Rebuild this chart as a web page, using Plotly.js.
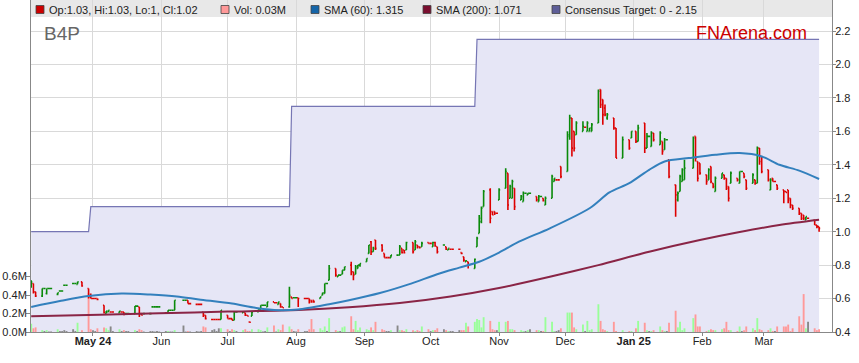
<!DOCTYPE html>
<html>
<head>
<meta charset="utf-8">
<script src="https://cdn.plot.ly/plotly-3.0.1.min.js"></script>
<style>html,body{margin:0;padding:0;background:#fff;}#chart{width:859px;height:363px;}</style>
</head>
<body>
<div id="chart"></div>
<script>
// ---------- DATA ----------
// Daily bars [open, high, low, close, volume(M)] per month (ASX trading days)
const apr24 = [
[0.67,0.71,0.665,0.70,0.09],[0.69,0.69,0.63,0.64,0.04],[0.64,0.64,0.61,0.615,0.05],[0.615,0.66,0.61,0.66,0.02],
[0.66,0.66,0.66,0.66,0.01],[0.63,0.66,0.625,0.66,0.02],[0.66,0.66,0.66,0.66,0.005],[0.66,0.66,0.66,0.66,0.005],
[0.625,0.635,0.62,0.635,0.03],[0.645,0.645,0.645,0.645,0.01],[0.645,0.645,0.645,0.645,0.01],[0.68,0.68,0.68,0.68,0.02],
[0.68,0.68,0.68,0.68,0.01],[0.69,0.69,0.69,0.69,0.03],[0.69,0.69,0.69,0.69,0.01],[0.685,0.70,0.685,0.70,0.10],
[0.70,0.70,0.67,0.675,0.02],[0.66,0.66,0.60,0.61,0.42],[0.62,0.63,0.60,0.60,0.03]];
const may24 = [
[0.60,0.60,0.60,0.60,0.02],[0.60,0.60,0.60,0.60,0.01],[0.60,0.60,0.59,0.595,0.04],[0.56,0.56,0.51,0.515,0.05],
[0.51,0.525,0.51,0.525,0.04],[0.52,0.53,0.52,0.53,0.02],[0.52,0.52,0.52,0.52,0.06],[0.52,0.52,0.52,0.52,0.01],
[0.515,0.525,0.515,0.525,0.03],[0.52,0.52,0.52,0.52,0.01],[0.52,0.52,0.50,0.505,0.02],[0.51,0.51,0.51,0.51,0.01],
[0.51,0.51,0.51,0.51,0.01],[0.51,0.555,0.51,0.555,0.02],[0.555,0.555,0.555,0.555,0.01],[0.55,0.55,0.49,0.505,0.03],
[0.51,0.51,0.50,0.50,0.02],[0.51,0.51,0.51,0.51,0.005],[0.51,0.51,0.51,0.51,0.01],[0.55,0.55,0.55,0.55,0.01],
[0.55,0.55,0.55,0.55,0.005],[0.55,0.55,0.55,0.55,0.01],[0.55,0.55,0.55,0.55,0.005]];
const jun24 = [
[0.515,0.515,0.515,0.515,0.01],[0.515,0.53,0.515,0.53,0.01],[0.53,0.53,0.53,0.53,0.005],[0.53,0.53,0.53,0.53,0.005],
[0.53,0.59,0.53,0.59,0.02],[0.59,0.59,0.59,0.59,0.07],[0.59,0.59,0.59,0.59,0.005],[0.59,0.59,0.57,0.57,0.01],
[0.57,0.57,0.57,0.57,0.005],[0.565,0.565,0.565,0.565,0.01],[0.565,0.565,0.565,0.565,0.005],[0.565,0.565,0.565,0.565,0.01],
[0.52,0.52,0.49,0.50,0.06],[0.50,0.50,0.475,0.48,0.05],[0.475,0.475,0.475,0.475,0.02],[0.475,0.475,0.475,0.475,0.03],
[0.475,0.475,0.475,0.475,0.01],[0.475,0.475,0.475,0.475,0.04],[0.475,0.53,0.475,0.53,0.04]];
const jul24 = [
[0.50,0.50,0.48,0.48,0.03],[0.48,0.48,0.48,0.48,0.01],[0.48,0.48,0.47,0.47,0.03],[0.47,0.52,0.47,0.52,0.02],
[0.52,0.52,0.52,0.52,0.01],[0.515,0.52,0.515,0.52,0.02],[0.515,0.515,0.495,0.50,0.03],[0.50,0.50,0.495,0.495,0.01],
[0.46,0.46,0.458,0.458,0.01],[0.495,0.52,0.495,0.52,0.03],[0.52,0.535,0.52,0.535,0.03],[0.535,0.56,0.535,0.56,0.02],
[0.56,0.56,0.56,0.56,0.005],[0.56,0.56,0.56,0.56,0.01],[0.55,0.58,0.55,0.58,0.05],[0.58,0.58,0.575,0.575,0.07],
[0.575,0.575,0.575,0.575,0.005],[0.565,0.58,0.565,0.58,0.03],[0.57,0.57,0.545,0.55,0.02],[0.55,0.55,0.545,0.545,0.08],
[0.55,0.67,0.545,0.62,0.06],[0.61,0.61,0.60,0.60,0.03],[0.605,0.605,0.605,0.605,0.01]];
const aug24 = [
[0.605,0.605,0.605,0.605,0.005],[0.605,0.605,0.55,0.60,0.03],[0.60,0.60,0.60,0.60,0.01],[0.60,0.60,0.60,0.60,0.01],
[0.60,0.60,0.57,0.58,0.03],[0.59,0.59,0.575,0.58,0.14],[0.59,0.59,0.575,0.58,0.03],[0.60,0.61,0.60,0.61,0.04],
[0.62,0.635,0.62,0.635,0.02],[0.63,0.69,0.63,0.69,0.06],[0.69,0.69,0.69,0.69,0.01],[0.71,0.80,0.71,0.78,0.15],
[0.78,0.78,0.73,0.74,0.02],[0.73,0.74,0.73,0.74,0.01],[0.74,0.74,0.74,0.74,0.01],[0.745,0.77,0.745,0.77,0.05],
[0.77,0.79,0.77,0.79,0.06],[0.80,0.82,0.74,0.76,0.17],[0.76,0.76,0.71,0.74,0.03],[0.745,0.80,0.745,0.79,0.12],
[0.78,0.80,0.78,0.80,0.02],[0.80,0.81,0.79,0.81,0.05]];
const sep24 = [
[0.82,0.84,0.82,0.84,0.03],[0.87,0.92,0.87,0.92,0.02],[0.94,0.945,0.86,0.88,0.05],[0.88,0.91,0.88,0.90,0.02],
[0.95,0.95,0.89,0.90,0.11],[0.92,0.925,0.88,0.89,0.03],[0.87,0.87,0.845,0.845,0.02],[0.845,0.845,0.845,0.845,0.01],
[0.845,0.845,0.845,0.845,0.01],[0.845,0.86,0.845,0.86,0.02],[0.86,0.86,0.86,0.86,0.07],[0.86,0.92,0.86,0.91,0.02],
[0.90,0.90,0.87,0.875,0.02],[0.89,0.89,0.87,0.875,0.01],[0.89,0.94,0.89,0.935,0.03],[0.935,0.935,0.87,0.88,0.02],
[0.89,0.95,0.89,0.94,0.01],[0.92,0.92,0.90,0.91,0.02],[0.91,0.91,0.90,0.905,0.01],[0.91,0.94,0.91,0.93,0.06],
[0.935,0.935,0.93,0.93,0.03]];
const oct24 = [
[0.93,0.93,0.93,0.93,0.01],[0.91,0.94,0.91,0.935,0.02],[0.935,0.94,0.91,0.915,0.02],[0.91,0.91,0.87,0.88,0.04],
[0.92,0.92,0.92,0.92,0.03],[0.91,0.91,0.89,0.895,0.02],[0.89,0.90,0.89,0.90,0.01],[0.895,0.895,0.895,0.895,0.01],
[0.895,0.895,0.895,0.895,0.01],[0.895,0.895,0.895,0.895,0.02],[0.875,0.875,0.865,0.87,0.02],[0.85,0.85,0.82,0.83,0.02],
[0.82,0.83,0.82,0.825,0.10],[0.82,0.82,0.78,0.80,0.06],[0.78,0.84,0.78,0.835,0.11],[0.91,0.97,0.91,0.96,0.14],
[0.99,1.10,0.99,1.08,0.13],[1.06,1.15,1.05,1.14,0.05],[1.15,1.25,1.15,1.24,0.16],[1.25,1.26,1.05,1.08,0.12],
[1.12,1.12,1.10,1.10,0.03],[1.12,1.12,1.10,1.11,0.02],[1.11,1.11,1.11,1.11,0.02]];
const nov24 = [
[1.19,1.26,1.19,1.25,0.11],[1.26,1.38,1.26,1.36,0.11],[1.35,1.35,1.13,1.16,0.12],[1.20,1.28,1.20,1.27,0.03],
[1.20,1.31,1.20,1.30,0.03],[1.26,1.26,1.13,1.15,0.02],[1.19,1.22,1.19,1.21,0.02],[1.18,1.24,1.18,1.23,0.01],
[1.23,1.23,1.23,1.23,0.01],[1.22,1.23,1.22,1.23,0.02],[1.23,1.23,1.23,1.23,0.03],[1.21,1.21,1.18,1.19,0.02],
[1.18,1.22,1.18,1.21,0.02],[1.21,1.21,1.21,1.21,0.01],[1.20,1.20,1.18,1.185,0.01],[1.16,1.21,1.16,1.20,0.16],
[1.20,1.34,1.20,1.33,0.11],[1.30,1.32,1.30,1.32,0.01],[1.31,1.31,1.31,1.31,0.01],[1.31,1.31,1.31,1.31,0.02],
[1.39,1.39,1.32,1.33,0.04]];
const dec24 = [
[1.36,1.60,1.36,1.58,0.21],[1.57,1.70,1.55,1.68,0.21],[1.68,1.68,1.45,1.50,0.21],[1.60,1.60,1.48,1.50,0.05],
[1.58,1.66,1.58,1.65,0.03],[1.60,1.66,1.60,1.63,0.08],[1.625,1.625,1.625,1.625,0.01],[1.60,1.66,1.60,1.65,0.12],
[1.60,1.62,1.60,1.62,0.02],[1.60,1.65,1.60,1.64,0.03],[1.65,1.85,1.65,1.84,0.30],[1.85,1.85,1.74,1.76,0.12],
[1.79,1.79,1.64,1.70,0.03],[1.74,1.76,1.69,1.70,0.02],[1.68,1.71,1.67,1.70,0.01],[1.68,1.68,1.61,1.62,0.11],
[1.62,1.62,1.44,1.44,0.01],[1.44,1.57,1.44,1.55,0.02],[1.55,1.55,1.49,1.50,0.01],[1.56,1.60,1.56,1.60,0.01]];
const jan25 = [
[1.60,1.60,1.53,1.54,0.04],[1.54,1.64,1.54,1.62,0.12],[1.65,1.65,1.47,1.50,0.10],[1.50,1.59,1.50,1.57,0.02],
[1.57,1.57,1.57,1.57,0.01],[1.51,1.60,1.51,1.59,0.01],[1.59,1.59,1.54,1.55,0.02],[1.52,1.60,1.52,1.59,0.06],
[1.54,1.54,1.46,1.48,0.02],[1.49,1.56,1.49,1.55,0.01],[1.55,1.55,1.55,1.55,0.01],[1.43,1.43,1.32,1.33,0.10],
[1.28,1.28,1.09,1.22,0.23],[1.19,1.24,1.18,1.23,0.05],[1.24,1.34,1.24,1.33,0.11],[1.30,1.38,1.30,1.37,0.02],
[1.31,1.43,1.31,1.38,0.04],[1.38,1.57,1.38,1.56,0.15],[1.57,1.57,1.42,1.44,0.19],[1.42,1.42,1.30,1.32,0.06],
[1.41,1.41,1.34,1.35,0.06]];
const feb25 = [
[1.34,1.34,1.28,1.30,0.01],[1.31,1.38,1.31,1.37,0.02],[1.39,1.39,1.29,1.30,0.03],[1.29,1.29,1.26,1.27,0.02],
[1.24,1.33,1.24,1.32,0.02],[1.32,1.35,1.32,1.35,0.03],[1.34,1.34,1.31,1.32,0.04],[1.32,1.32,1.25,1.26,0.11],
[1.27,1.27,1.18,1.20,0.02],[1.29,1.36,1.29,1.35,0.02],[1.32,1.32,1.30,1.31,0.01],[1.29,1.36,1.29,1.36,0.06],
[1.36,1.36,1.36,1.36,0.01],[1.35,1.35,1.32,1.33,0.02],[1.31,1.31,1.25,1.26,0.06],[1.29,1.35,1.29,1.34,0.04],
[1.31,1.31,1.28,1.29,0.02],[1.29,1.51,1.29,1.50,0.15],[1.50,1.50,1.40,1.42,0.03],[1.45,1.45,1.35,1.36,0.02]];
const mar25 = [
[1.37,1.37,1.30,1.31,0.02],[1.25,1.32,1.25,1.31,0.04],[1.32,1.32,1.30,1.30,0.01],[1.30,1.30,1.30,1.30,0.01],
[1.28,1.28,1.25,1.26,0.06],[1.25,1.25,1.17,1.24,0.06],[1.24,1.24,1.235,1.235,0.06],[1.25,1.25,1.17,1.19,0.08],
[1.20,1.20,1.14,1.16,0.01],[1.16,1.16,1.13,1.14,0.04],[1.14,1.14,1.10,1.11,0.17],[1.11,1.11,1.07,1.08,0.08],
[1.10,1.10,1.07,1.08,0.41],[1.07,1.09,1.07,1.09,0.04],[1.08,1.08,1.08,1.08,0.11],[1.07,1.07,1.04,1.04,0.04],
[1.04,1.04,1.02,1.03,0.02],[1.03,1.03,1.00,1.02,0.03]];

const months = [
  ['2024-04-03','2024-04-30',apr24],['2024-05-01','2024-05-31',may24],['2024-06-01','2024-06-30',jun24],
  ['2024-07-01','2024-07-31',jul24],['2024-08-01','2024-08-31',aug24],['2024-09-01','2024-09-30',sep24],
  ['2024-10-01','2024-10-31',oct24],['2024-11-01','2024-11-30',nov24],['2024-12-01','2024-12-31',dec24],
  ['2025-01-01','2025-01-31',jan25],['2025-02-01','2025-02-28',feb25],['2025-03-01','2025-03-26',mar25]];
const holidays = ['2024-04-25','2024-06-10','2024-12-25','2024-12-26','2025-01-01','2025-01-27'];

// SMA lines
const sma60Dates = ['2024-04-03','2024-04-16','2024-04-29','2024-05-14','2024-05-27','2024-06-08','2024-06-18','2024-07-03','2024-07-14','2024-07-24','2024-08-02','2024-08-16','2024-08-25','2024-09-08','2024-09-21','2024-10-05','2024-10-14','2024-10-23','2024-11-01','2024-11-10','2024-11-24','2024-12-12','2024-12-21','2024-12-30','2025-01-08','2025-01-15','2025-01-26','2025-02-07','2025-02-18','2025-02-28','2025-03-08','2025-03-17','2025-03-26'];
const sma60Values = [0.55,0.585,0.615,0.63,0.624,0.613,0.595,0.57,0.544,0.53,0.534,0.566,0.59,0.633,0.685,0.75,0.785,0.82,0.875,0.94,1.02,1.14,1.235,1.29,1.37,1.42,1.44,1.46,1.47,1.45,1.40,1.365,1.315];
const sma200Dates = ['2024-04-03','2024-05-04','2024-05-31','2024-07-01','2024-08-02','2024-08-25','2024-09-17','2024-10-10','2024-11-01','2024-11-24','2024-12-16','2025-01-08','2025-01-31','2025-02-18','2025-03-08','2025-03-26'];
const sma200Values = [0.494,0.503,0.512,0.522,0.532,0.548,0.573,0.612,0.663,0.73,0.80,0.88,0.95,0.998,1.04,1.071];

// Consensus target (step line)
const targetDates = ['2024-04-03','2024-04-29','2024-04-30','2024-07-29','2024-07-30','2024-10-21','2024-10-22','2025-03-26'];
const targetValues = [1.0,1.0,1.15,1.15,1.75,1.75,2.15,2.15];

// Axis ticks
const monthTicks = ['2024-05-01','2024-06-01','2024-07-01','2024-08-01','2024-09-01','2024-10-01','2024-11-01','2024-12-01','2025-01-01','2025-02-01','2025-03-01'];
const monthLabels = ['<b>May 24</b>','Jun','Jul','Aug','Sep','Oct','Nov','Dec','<b>Jan 25</b>','Feb','Mar'];
const priceTicks = [0.4,0.6,0.8,1.0,1.2,1.4,1.6,1.8,2.0,2.2];
const volTicks = [0,0.2,0.4,0.6];

// ---------- BUILD ----------
function tradingDays(from, to){
  const out = [];
  let d = new Date(from + 'T00:00:00Z');
  const end = new Date(to + 'T00:00:00Z');
  while (d <= end){
    const s = d.toISOString().slice(0,10);
    const w = d.getUTCDay();
    if (w !== 0 && w !== 6 && holidays.indexOf(s) < 0) out.push(s);
    d = new Date(d.getTime() + 86400000);
  }
  return out;
}
const dates=[], op=[], hi=[], lo=[], cl=[], vol=[];
months.forEach(([a,b,bars])=>{
  const ds = tradingDays(a,b);
  const n = Math.min(ds.length, bars.length);
  for (let i=0;i<n;i++){
    dates.push(ds[i]); op.push(bars[i][0]); hi.push(bars[i][1]); lo.push(bars[i][2]); cl.push(bars[i][3]); vol.push(bars[i][4]);
  }
});
const volColors = cl.map((c,i)=> c>op[i] ? '#99ff99' : (c<op[i] ? '#ff9999' : '#888888'));

const W=859, H=363, L=31, R=832, T=0, B=332;
const px = x => (x-L)/(R-L);
const py = y => (B-y)/(B-T);

const traces = [
  {type:'scatter', mode:'lines', x:targetDates, y:targetValues, fill:'tozeroy', fillcolor:'#e6e6f6',
   line:{color:'#7676b4', width:1.2}, xaxis:'x', yaxis:'y', hoverinfo:'skip'},
  {type:'bar', x:dates, y:vol, marker:{color:volColors, line:{width:0}}, width:0.85*86400000,
   xaxis:'x', yaxis:'y2', hoverinfo:'skip'},
  {type:'scatter', mode:'lines', x:sma200Dates, y:sma200Values, line:{color:'#8a2546', width:2, shape:'spline', smoothing:0.8},
   xaxis:'x', yaxis:'y3', hoverinfo:'skip'},
  {type:'scatter', mode:'lines', x:sma60Dates, y:sma60Values, line:{color:'#3380bd', width:2, shape:'spline', smoothing:0.8},
   xaxis:'x', yaxis:'y3', hoverinfo:'skip'},
  {type:'ohlc', x:dates, open:op, high:hi, low:lo, close:cl, tickwidth:0.5,
   increasing:{line:{color:'#0a8a0a', width:1.6}}, decreasing:{line:{color:'#dd0000', width:1.6}},
   xaxis:'x', yaxis:'y3', hoverinfo:'skip'}
];

const last = dates.length-1;
const legendItems = [
  {text:'Op:'+op[last]+', Hi:'+hi[last]+', Lo:'+lo[last]+', Cl:'+cl[last], color:'#cc0000', x:36},
  {text:'Vol: '+vol[last].toFixed(2)+'M', color:'#ff9999', x:221},
  {text:'SMA (60): '+sma60Values[sma60Values.length-1].toFixed(3), color:'#1565a8', x:311},
  {text:'SMA (200): '+sma200Values[sma200Values.length-1].toFixed(3), color:'#7a0f30', x:423},
  {text:'Consensus Target: 0 - '+targetValues[targetValues.length-1].toFixed(2), color:'#5e5e98', x:552}
];
const font = 'Liberation Sans, Arial, sans-serif';
const shapes = [
  {type:'rect', xref:'paper', yref:'paper', x0:0, x1:1, y0:py(17), y1:1, fillcolor:'#e8e8e8', line:{width:0}, layer:'below'}
];
const annotations = [];
legendItems.forEach(it=>{
  shapes.push({type:'rect', xref:'paper', yref:'paper', x0:px(it.x), x1:px(it.x+8), y0:py(13.5), y1:py(5.5),
    fillcolor:it.color, line:{color:'#444', width:0.8}, layer:'above'});
  annotations.push({xref:'paper', yref:'paper', x:px(it.x+11), y:py(9.5), xanchor:'left', yanchor:'middle',
    text:it.text, showarrow:false, font:{family:font, size:11, color:'#222'}});
});
annotations.push({xref:'paper', yref:'paper', x:px(42), y:py(33), xanchor:'left', yanchor:'middle', text:'B4P',
  showarrow:false, font:{family:font, size:19, color:'#666'}});
annotations.push({xref:'paper', yref:'paper', x:px(809), y:py(33), xanchor:'right', yanchor:'middle', text:'FNArena.com',
  showarrow:false, font:{family:font, size:18, color:'#cc0000'}});

const yTop = 0.4 + (B-T)/167.2;
const layout = {
  width:W, height:H, margin:{l:L, r:W-R, t:T, b:H-B, pad:0},
  paper_bgcolor:'#ffffff', plot_bgcolor:'#ffffff', showlegend:false, hovermode:false,
  font:{family:font, size:11, color:'#222'},
  xaxis:{type:'date', range:['2024-04-02 21:50','2025-03-31 20:24'], tickmode:'array', tickvals:monthTicks, ticktext:monthLabels,
    showgrid:true, gridcolor:'#d9d9d9', gridwidth:1, ticks:'outside', ticklen:3, tickcolor:'#888',
    showline:true, linecolor:'#888', linewidth:1, zeroline:false, rangeslider:{visible:false}, ticklabelstandoff:-4,
    tickfont:{family:font, size:11, color:'#222'}, fixedrange:true},
  yaxis:{side:'right', range:[0.4, yTop], tickmode:'array', tickvals:priceTicks, ticktext:priceTicks.map(v=>v.toFixed(1)),
    showgrid:true, gridcolor:'#d9d9d9', gridwidth:1, ticks:'outside', ticklen:3, tickcolor:'#888', ticklabelstandoff:-3,
    showline:true, linecolor:'#888', linewidth:1, zeroline:false, tickfont:{family:font, size:11, color:'#222'}, fixedrange:true},
  yaxis2:{overlaying:'y', side:'left', range:[0, (B-T)/92.5], tickmode:'array', tickvals:volTicks, ticktext:volTicks.map(v=>v.toFixed(1)+'M'),
    showgrid:false, ticks:'outside', ticklen:4, tickcolor:'#888', showline:true, linecolor:'#888', linewidth:1, ticklabelstandoff:-3,
    zeroline:false, tickfont:{family:font, size:11, color:'#222'}, fixedrange:true},
  yaxis3:{overlaying:'y', side:'right', range:[0.4, yTop], visible:false, showgrid:false, zeroline:false, fixedrange:true},
  shapes:shapes, annotations:annotations
};
Plotly.newPlot('chart', traces, layout, {staticPlot:true, displayModeBar:false});
</script>
</body>
</html>
